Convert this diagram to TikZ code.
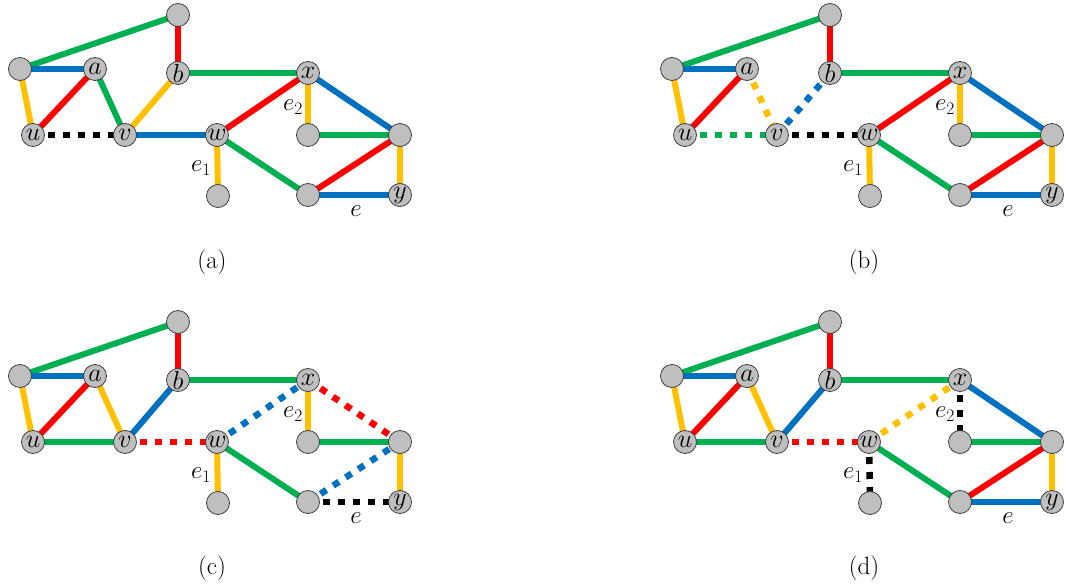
\RequirePackage{fix-cm}
\documentclass[tikz,border=0pt]{standalone}
\usetikzlibrary{backgrounds}
\definecolor{cg}{HTML}{00B050}
\definecolor{cr}{HTML}{FF0000}
\definecolor{cb}{HTML}{0070C0}
\definecolor{cy}{HTML}{FFC000}
\definecolor{ck}{HTML}{000000}
\definecolor{nodefill}{HTML}{BFBFBF}
\definecolor{nodeline}{HTML}{404040}
\tikzset{
  vtx/.style={circle,draw=nodeline,fill=nodefill,line width=0.8pt,minimum size=23pt,inner sep=0pt,font=\fontsize{26}{26}\selectfont},
  ed/.style={line width=6pt},
  dsh/.style={line width=6.5pt,dash pattern=on 7pt off 8pt},
  lab/.style={inner sep=0pt,font=\fontsize{25}{25}\selectfont},
  captext/.style={inner sep=0pt,font=\fontsize{25}{25}\selectfont}
}
\newcommand\gnodes[3]{%
  \begin{scope}[shift={(#2,#3)}]
    \node[vtx] (#1T) at (178,15) {};
    \node[vtx] (#1L) at (20,69) {};
    \node[vtx] (#1a) at (95,69) {$a$};
    \node[vtx] (#1b) at (178,73) {$b$};
    \node[vtx] (#1x) at (308,73) {$x$};
    \node[vtx] (#1u) at (33,135) {$u$};
    \node[vtx] (#1v) at (125,135) {$v$};
    \node[vtx] (#1w) at (217,135) {$w$};
    \node[vtx] (#1m) at (308,135) {};
    \node[vtx] (#1r) at (400,135) {};
    \node[vtx] (#1q) at (218,196) {};
    \node[vtx] (#1p) at (308,195) {};
    \node[vtx] (#1y) at (400,195) {$y$};
    \node[lab] (#1e1) at (201,168) {$e_1$};
    \node[lab] (#1e2) at (293,107) {$e_2$};
    \node[lab] (#1e) at (356,211) {$e$};
  \end{scope}}
\newcommand\E[4]{\draw[#1] (#2#3.center) -- (#2#4.center);}
\newcommand\common[1]{%
  \E{ed,cg}{#1}{T}{L}
  \E{ed,cr}{#1}{T}{b}
  \E{ed,cb}{#1}{L}{a}
  \E{ed,cy}{#1}{L}{u}
  \E{ed,cr}{#1}{u}{a}
  \E{ed,cg}{#1}{b}{x}
  \E{ed,cg}{#1}{m}{r}
  \E{ed,cg}{#1}{w}{p}
  \E{ed,cy}{#1}{r}{y}}
\begin{document}
\begin{tikzpicture}[x=1pt,y=-1pt]
\useasboundingbox (0,0) rectangle (1066,588);
% ---------- (a)
\gnodes{A}{0}{0}
\begin{scope}[on background layer]
  \common{A}
  \E{ed,cy}{A}{x}{m}
  \E{ed,cy}{A}{w}{q}
  \E{ed,cg}{A}{a}{v}
  \E{dsh,ck}{A}{u}{v}
  \E{ed,cy}{A}{v}{b}
  \E{ed,cb}{A}{v}{w}
  \E{ed,cr}{A}{x}{w}
  \E{ed,cb}{A}{x}{r}
  \E{ed,cr}{A}{p}{r}
  \E{ed,cb}{A}{p}{y}
\end{scope}
\node[captext] (capA) at (212,262) {(a)};
% ---------- (b)
\gnodes{B}{652}{0}
\begin{scope}[on background layer]
  \common{B}
  \E{ed,cy}{B}{x}{m}
  \E{ed,cy}{B}{w}{q}
  \E{dsh,cy}{B}{a}{v}
  \E{dsh,cb}{B}{b}{v}
  \E{dsh,cg}{B}{u}{v}
  \E{dsh,ck}{B}{v}{w}
  \E{ed,cr}{B}{x}{w}
  \E{ed,cb}{B}{x}{r}
  \E{ed,cr}{B}{p}{r}
  \E{ed,cb}{B}{p}{y}
\end{scope}
\node[captext] (capB) at (864,262) {(b)};
% ---------- (c)
\gnodes{C}{0}{307}
\begin{scope}[on background layer]
  \common{C}
  \E{ed,cy}{C}{x}{m}
  \E{ed,cy}{C}{w}{q}
  \E{ed,cy}{C}{a}{v}
  \E{ed,cb}{C}{v}{b}
  \E{ed,cg}{C}{u}{v}
  \E{dsh,cr}{C}{v}{w}
  \E{dsh,cb}{C}{w}{x}
  \E{dsh,cr}{C}{x}{r}
  \E{dsh,cb}{C}{p}{r}
  \E{dsh,ck}{C}{p}{y}
\end{scope}
\node[captext] (capC) at (212,568) {(c)};
% ---------- (d)
\gnodes{D}{652}{307}
\begin{scope}[on background layer]
  \common{D}
  \E{ed,cy}{D}{a}{v}
  \E{ed,cb}{D}{v}{b}
  \E{ed,cg}{D}{u}{v}
  \E{dsh,cr}{D}{v}{w}
  \E{dsh,cy}{D}{w}{x}
  \E{dsh,ck}{D}{x}{m}
  \E{dsh,ck}{D}{w}{q}
  \E{ed,cb}{D}{x}{r}
  \E{ed,cr}{D}{p}{r}
  \E{ed,cb}{D}{p}{y}
\end{scope}
\node[captext] (capD) at (864,568) {(d)};
\end{tikzpicture}
\end{document}
